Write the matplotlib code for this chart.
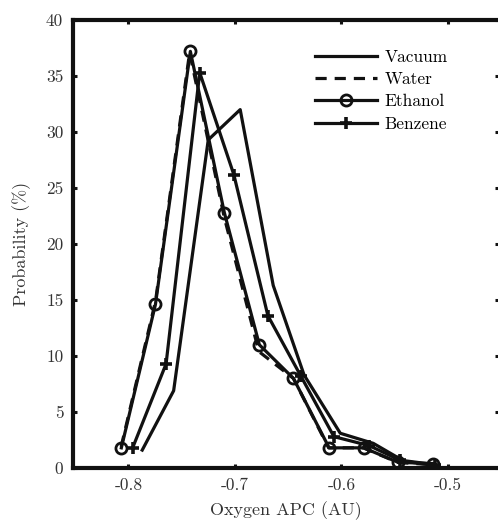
import numpy as np
import matplotlib
matplotlib.use('Agg')
import matplotlib.pyplot as plt

plt.rcParams['font.family'] = ['cmr10', 'DejaVu Serif']
plt.rcParams['axes.unicode_minus'] = False
plt.rcParams['mathtext.fontset'] = 'cm'

# oxygen charge histograms (bin centre, probability %)
vac_x = [-0.787, -0.7575, -0.725, -0.695, -0.664, -0.635, -0.601, -0.570, -0.541, -0.510]
vac_y = [1.6, 6.9, 29.3, 32.0, 16.3, 8.3, 3.1, 2.2, 0.6, 0.2]

wat_x = [-0.8068, -0.7745, -0.7425, -0.7100, -0.6775, -0.6450, -0.6120, -0.5795, -0.5470, -0.5145]
wat_y = [1.9, 14.9, 37.1, 22.4, 10.4, 8.0, 1.8, 1.8, 0.5, 0.3]

eth_x = [-0.8066, -0.7746, -0.7418, -0.7099, -0.6770, -0.6450, -0.6115, -0.5790, -0.5465, -0.5140]
eth_y = [1.8, 14.6, 37.2, 22.8, 11.0, 8.0, 1.8, 1.8, 0.5, 0.4]

ben_x = [-0.796, -0.7646, -0.733, -0.701, -0.669, -0.638, -0.607, -0.574, -0.545, -0.512]
ben_y = [1.8, 9.3, 35.3, 26.2, 13.6, 8.2, 2.8, 2.0, 0.7, 0.3]

xticks = [-0.8, -0.7, -0.6, -0.5]
xticklabels = ['-0.8', '-0.7', '-0.6', '-0.5']
yticks = [0, 5, 10, 15, 20, 25, 30, 35, 40]

col = '#111111'
txt = '#333333'
lw = 2.3

fig = plt.figure(figsize=(4.98, 5.2), dpi=100)
ax = fig.add_axes([73/498, 52/520, 426/498, 448/520])

ax.plot(vac_x, vac_y, '-', color=col, lw=lw, label='Vacuum')
ax.plot(wat_x, wat_y, '--', color=col, lw=lw, dashes=(3.5, 2.5), label='Water')
ax.plot(eth_x, eth_y, '-', color=col, lw=lw, marker='o', ms=8, mfc='none',
        mec=col, mew=2.0, label='Ethanol')
ax.plot(ben_x, ben_y, '-', color=col, lw=lw, marker='+', ms=9, mew=2.6,
        mec=col, label='Benzene')

ax.set_xlim(-0.852, -0.452)
ax.set_ylim(0, 40)
ax.set_xticks(xticks)
ax.set_xticklabels(xticklabels)
ax.set_yticks(yticks)

for s in ax.spines.values():
    s.set_linewidth(3.0)
    s.set_color(col)
ax.tick_params(direction='in', length=3, width=2.2, top=True, right=True,
               labelsize=12.5, colors=col, pad=7)
for lab in ax.get_xticklabels() + ax.get_yticklabels():
    lab.set_color(txt)

ax.set_xlabel('Oxygen APC (AU)', fontsize=13, color=txt, labelpad=6)
ax.set_ylabel('Probability (%)', fontsize=13, color=txt, labelpad=11)

ax.legend(loc='upper left', bbox_to_anchor=(0.568, 0.934), frameon=False,
          fontsize=12.5, handlelength=3.6, handletextpad=0.4, labelspacing=0.4,
          borderaxespad=0, borderpad=0)

fig.savefig('out.png', dpi=100)
